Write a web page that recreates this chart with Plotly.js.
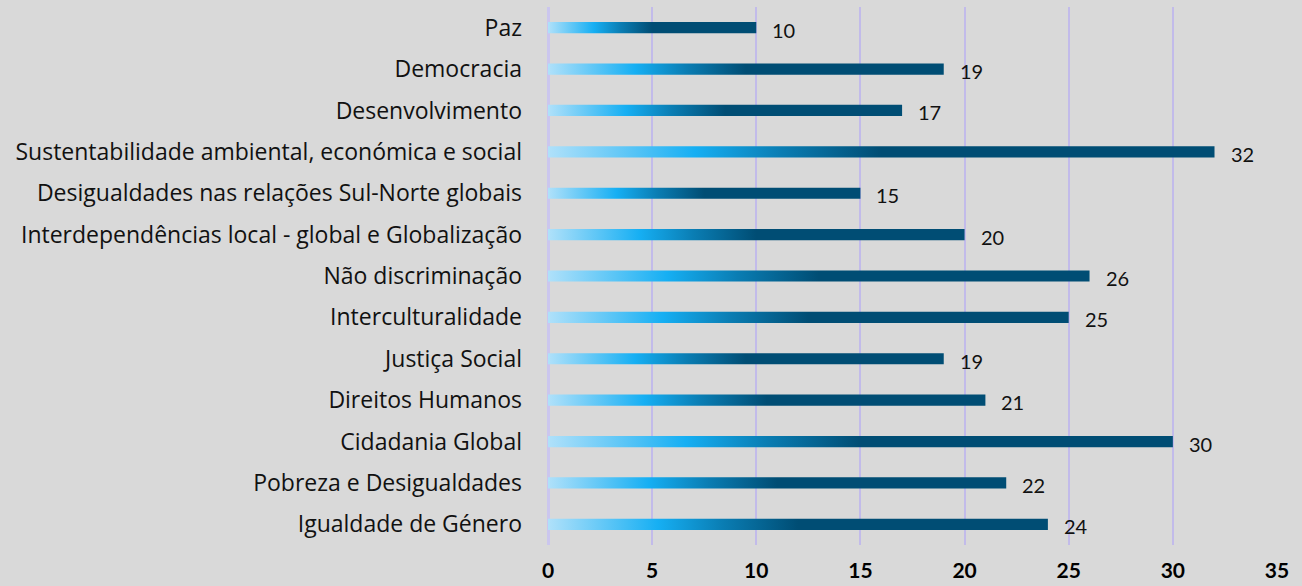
<!DOCTYPE html>
<html>
<head>
<meta charset="utf-8">
<script src="https://cdn.plot.ly/plotly-3.0.1.min.js"></script>
<style>
  html, body { margin: 0; padding: 0; background: #d9d9d9; }
  #chart { width: 1302px; height: 586px; }
</style>
</head>
<body>
<div id="chart"></div>
<script>
// categories top to bottom, as in the picture
var temas = [
  'Paz',
  'Democracia',
  'Desenvolvimento',
  'Sustentabilidade ambiental, económica e social',
  'Desigualdades nas relações Sul-Norte globais',
  'Interdependências local - global e Globalização',
  'Não discriminação',
  'Interculturalidade',
  'Justiça Social',
  'Direitos Humanos',
  'Cidadania Global',
  'Pobreza e Desigualdades',
  'Igualdade de Género'
];
var valores = [10, 19, 17, 32, 15, 20, 26, 25, 19, 21, 30, 22, 24];
var xTicks = [0, 5, 10, 15, 20, 25, 30, 35];

var trace = {
  type: 'bar',
  orientation: 'h',
  x: valores,
  y: temas,
  width: 0.27,
  marker: { color: '#004d74' },
  hoverinfo: 'x+y'
};

// value labels a bit right of each bar end
var labels = temas.map(function (t, i) {
  return {
    x: valores[i], y: t,
    text: String(valores[i]),
    xanchor: 'left', xshift: 14, yshift: -2,
    showarrow: false,
    font: { family: 'Lato, sans-serif', size: 20, color: '#111' }
  };
});

var layout = {
  width: 1302,
  height: 586,
  margin: { l: 548, r: 25, t: 7, b: 41 },
  paper_bgcolor: '#d9d9d9',
  plot_bgcolor: '#d9d9d9',
  showlegend: false,
  xaxis: {
    range: [0, 35],
    tickvals: xTicks,
    tickfont: { family: 'Lato, sans-serif', size: 21, color: '#000', weight: 'bold' },
    showgrid: true,
    gridcolor: '#c2bbea',
    gridwidth: 2,
    zeroline: true,
    zerolinecolor: '#cbc6ee',
    zerolinewidth: 3,
    showline: false,
    ticks: '',
    ticklabelstandoff: 11,
    fixedrange: true
  },
  yaxis: {
    autorange: 'reversed',
    categoryorder: 'array',
    categoryarray: temas,
    tickfont: { family: 'Open Sans, sans-serif', size: 23, color: '#111' },
    showgrid: false,
    showline: false,
    ticks: '',
    ticklabelstandoff: 25,
    fixedrange: true
  },
  annotations: labels
};

Plotly.newPlot('chart', [trace], layout, { displayModeBar: false }).then(function (gd) {
  // Plotly bars have no gradient fill, so add one to the svg and point the bars at it
  var ns = 'http://www.w3.org/2000/svg';
  var svg = gd.querySelector('svg.main-svg');
  var defs = svg.querySelector('defs') || svg.insertBefore(document.createElementNS(ns, 'defs'), svg.firstChild);
  var grad = document.createElementNS(ns, 'linearGradient');
  grad.setAttribute('id', 'barGrad');
  grad.setAttribute('x1', '0'); grad.setAttribute('y1', '0');
  grad.setAttribute('x2', '1'); grad.setAttribute('y2', '0');
  [['0', '#b0e1fa'], ['0.22', '#16aff3'], ['0.35', '#0a7db3'], ['0.5', '#004d74'], ['1', '#004d74']].forEach(function (s) {
    var st = document.createElementNS(ns, 'stop');
    st.setAttribute('offset', s[0]);
    st.setAttribute('stop-color', s[1]);
    grad.appendChild(st);
  });
  defs.appendChild(grad);
  gd.querySelectorAll('.bars .point path').forEach(function (p) {
    p.style.fill = 'url(#barGrad)';
  });
});
</script>
</body>
</html>
